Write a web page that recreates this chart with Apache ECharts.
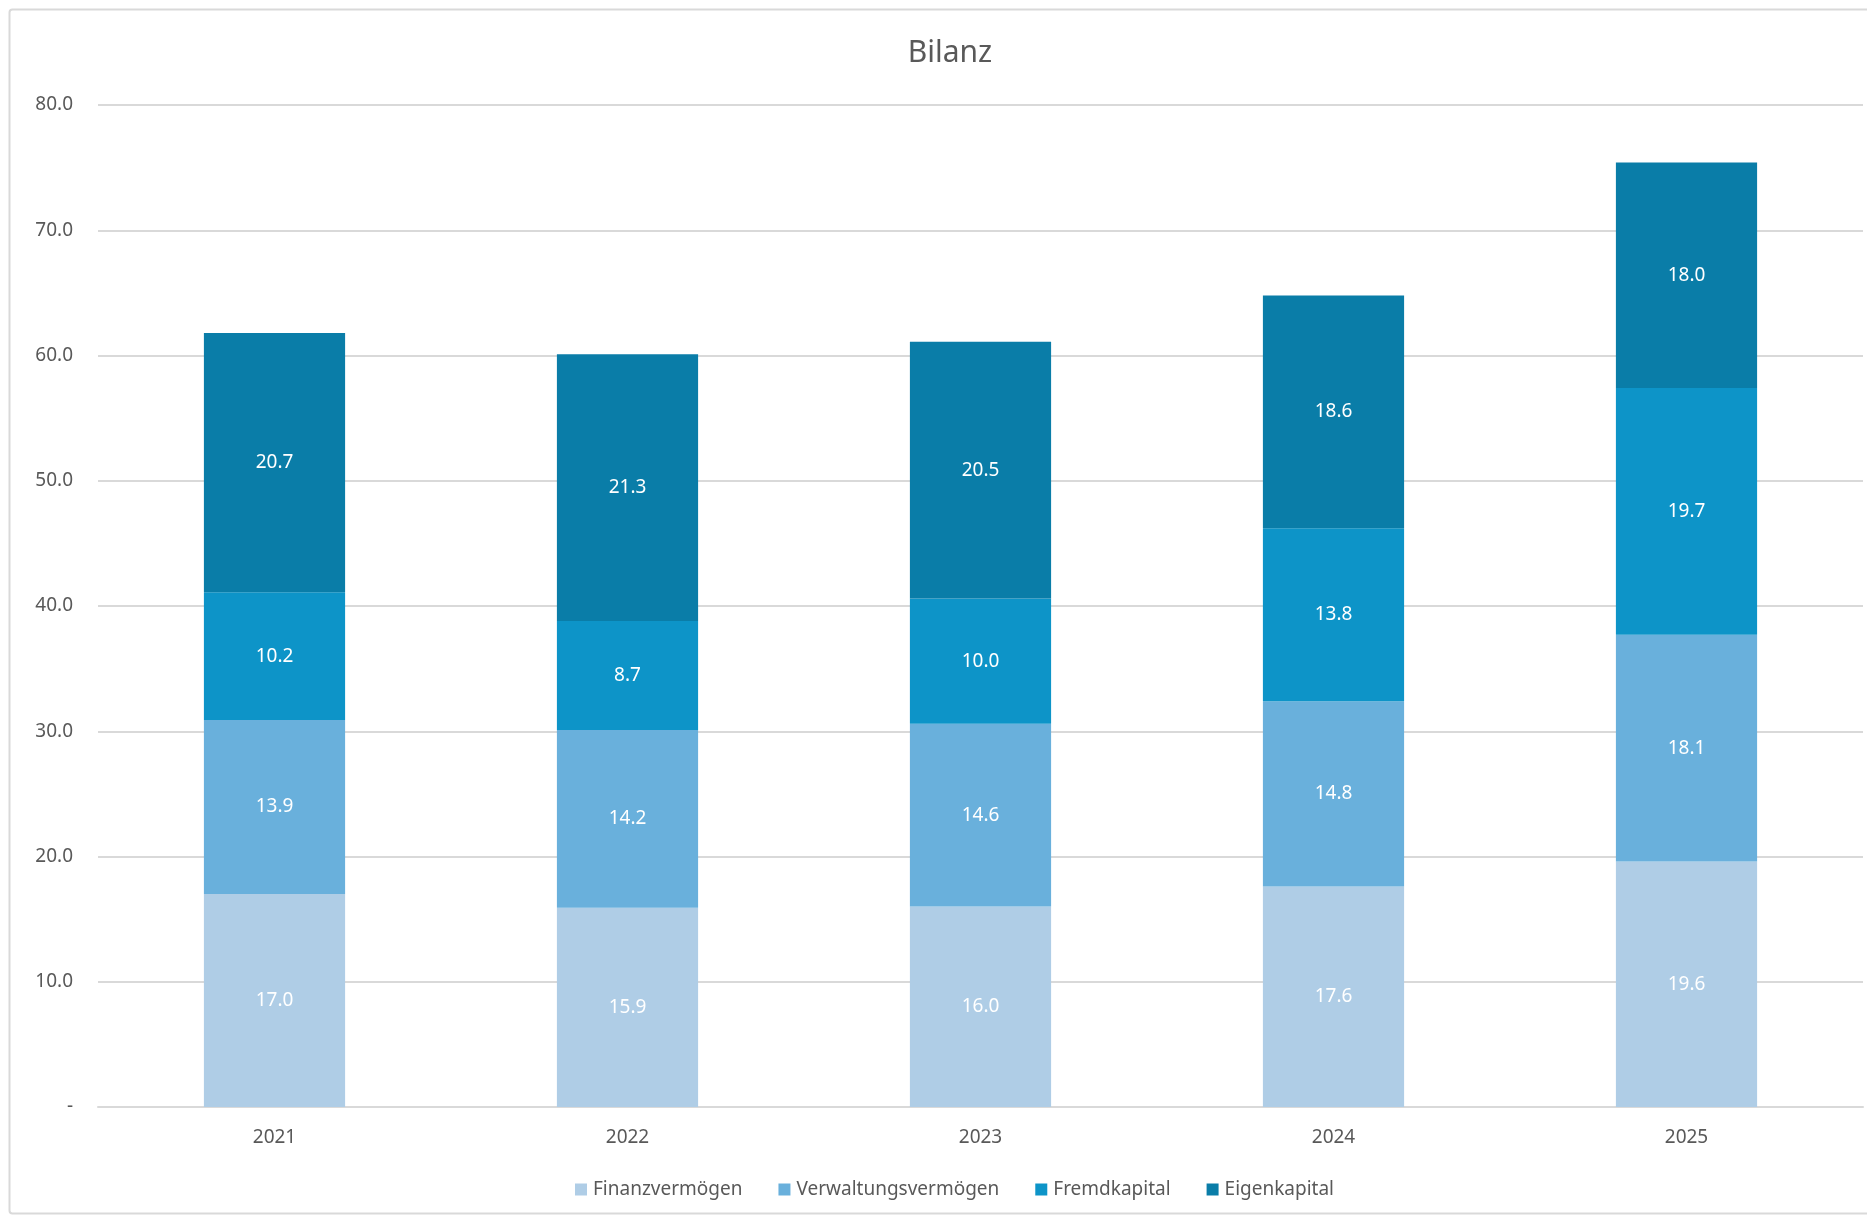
<!DOCTYPE html>
<html>
<head>
<meta charset="utf-8">
<script src="https://cdn.jsdelivr.net/npm/echarts@6/dist/echarts.min.js"></script>
<style>
html,body{margin:0;padding:0;background:#fff;}
#chart{width:1867px;height:1217px;}
</style>
</head>
<body>
<div id="chart"></div>
<script>
const categories = ['2021', '2022', '2023', '2024', '2025'];
const finanzvermoegen = [17.0, 15.9, 16.0, 17.6, 19.6];
const verwaltungsvermoegen = [13.9, 14.2, 14.6, 14.8, 18.1];
const fremdkapital = [10.2, 8.7, 10.0, 13.8, 19.7];
const eigenkapital = [20.7, 21.3, 20.5, 18.6, 18.0];
const seriesNames = ['Finanzvermögen', 'Verwaltungsvermögen', 'Fremdkapital', 'Eigenkapital'];
const colors = ['#AFCDE6', '#69B0DC', '#0D94C8', '#0A7DA8'];

const FONT = '"Noto Sans", "Open Sans", sans-serif';
const chart = echarts.init(document.getElementById('chart'));
const dataSets = [finanzvermoegen, verwaltungsvermoegen, fremdkapital, eigenkapital];

chart.setOption({
  animation: false,
  backgroundColor: '#ffffff',
  textStyle: { fontFamily: FONT },
  graphic: [{
    type: 'rect',
    shape: { x: 9.5, y: 9.5, width: 1900, height: 1204, r: 3 },
    style: { fill: 'none', stroke: '#D9D9D9', lineWidth: 2 },
    silent: true, z: -10
  }],
  title: {
    text: 'Bilanz',
    left: 945, top: 33, textAlign: 'center',
    textStyle: { color: '#595959', fontSize: 30, fontWeight: 'normal', fontFamily: FONT }
  },
  legend: {
    data: seriesNames,
    left: 570, top: 1175,
    itemWidth: 12, itemHeight: 12, itemGap: 36,
    icon: 'rect',
    textStyle: { color: '#595959', fontSize: 19, fontFamily: FONT, padding: [0, 0, 0, 1] }
  },
  grid: { left: 98, right: 4, top: 105, bottom: 110, containLabel: false },
  xAxis: {
    type: 'category',
    data: categories,
    axisLine: { lineStyle: { color: '#D9D9D9', width: 2 } },
    axisTick: { show: false },
    axisLabel: { color: '#595959', fontSize: 19, margin: 21, fontFamily: FONT }
  },
  yAxis: {
    type: 'value',
    min: 0, max: 80, interval: 10,
    axisLine: { show: false },
    axisTick: { show: false },
    splitLine: { lineStyle: { color: '#D9D9D9', width: 2 } },
    axisLabel: {
      color: '#595959', fontSize: 19, margin: 25, fontFamily: FONT,
      formatter: v => v === 0 ? '-' : v.toFixed(1)
    }
  },
  series: dataSets.map((d, i) => ({
    name: seriesNames[i],
    type: 'bar',
    stack: 'total',
    data: d,
    barWidth: '40%',
    itemStyle: { color: colors[i] },
    label: {
      show: true, position: 'inside', color: '#ffffff', fontSize: 19, fontFamily: FONT,
      formatter: p => p.value.toFixed(1)
    }
  }))
});
</script>
</body>
</html>
